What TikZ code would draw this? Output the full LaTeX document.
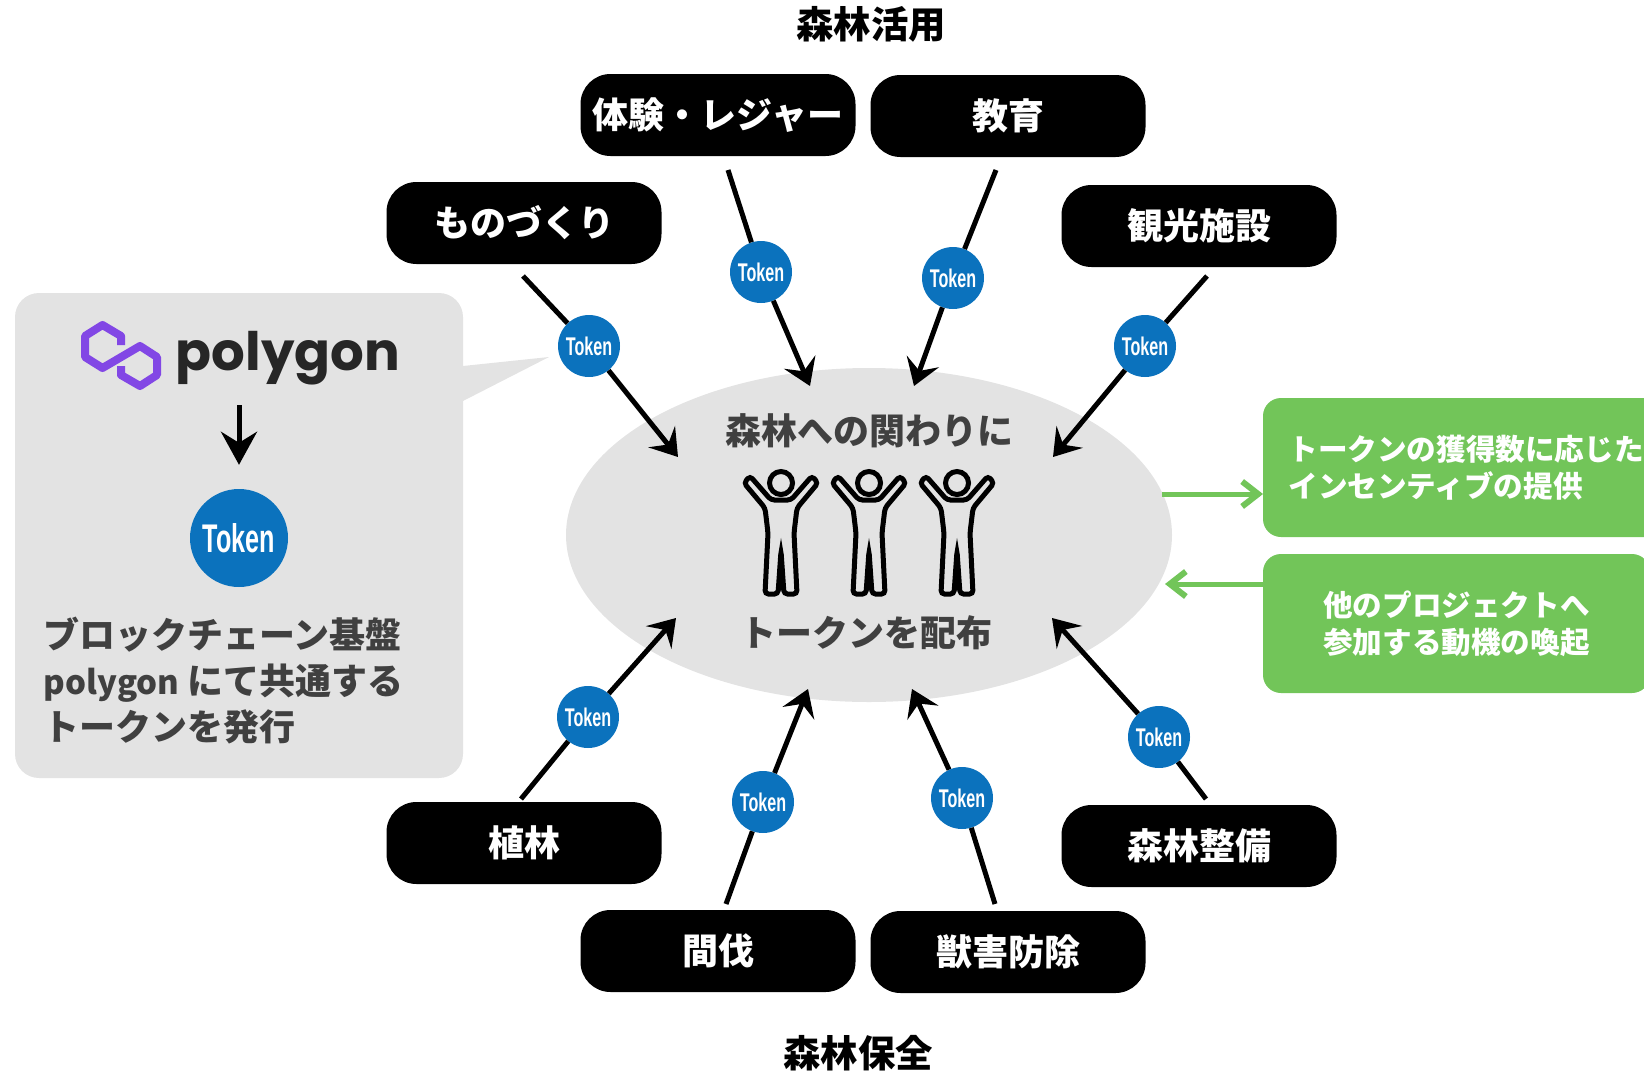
\documentclass[tikz,border=0pt]{standalone}
\usepackage{fontspec}
\usepackage{tikz}
\usetikzlibrary{arrows.meta,shapes.geometric}
\newfontfamily\jpfont{Noto Sans CJK JP}
\newfontfamily\logofont{Poppins}
\newfontfamily\tokenfont[FakeStretch=0.63]{Liberation Sans}
\definecolor{panelgray}{HTML}{E3E3E3}
\definecolor{textgray}{HTML}{404040}
\definecolor{tokenblue}{HTML}{0B72BD}
\definecolor{boxgreen}{HTML}{72C559}
\definecolor{logopurple}{HTML}{8247E5}
\tikzset{
	pill/.style={fill=black, text=white, rounded corners=30pt, minimum width=275pt, minimum height=82pt, inner sep=0pt, font=\jpfont\bfseries\fontsize{36}{42}\selectfont},
	token/.style={circle, fill=tokenblue, text=white, minimum size=62pt, inner sep=0pt, font=\tokenfont\bfseries\fontsize{25.6}{30}\selectfont},
	heading/.style={font=\jpfont\bfseries\fontsize{37.4}{44}\selectfont},
	grayline/.style={text=textgray, font=\jpfont\bfseries\fontsize{36}{46}\selectfont},
	greenbox/.style={fill=boxgreen, text=white, rounded corners=18pt, minimum height=139pt, inner sep=0pt, align=left, font=\jpfont\bfseries\fontsize{29.6}{37}\selectfont},
	arrowline/.style={line width=5pt},
	tokenarrow/.style={line width=5pt, -{Stealth[length=26pt,width=34pt,inset=10pt]}},
	greenarrow/.style={draw=boxgreen, line width=5pt, -{Straight Barb[length=16pt,width=25pt,line width=6pt]}},
	person/.pic={
		\draw[line width=5pt, fill=none] (0,0) circle (11.5pt);
		\draw[line width=5pt, rounded corners=3.5pt] (-10,17) -- (-31,-7) -- (-37,0) -- (-16,25) -- (-13,50) -- (-16,111) -- (-3,111) -- (0,68) -- (3,111) -- (16,111) -- (13,50) -- (16,25) -- (37,0) -- (31,-7) -- (10,17) -- cycle;
	}
}

\begin{document}
\begin{tikzpicture}[x=1pt, y=-1pt]
	\useasboundingbox (0,0) rectangle (1644,1071);
	\clip (0,0) rectangle (1644,1071);
	% Specify the positions of the activities:
	\coordinate (P0) at (718,115);
	\coordinate (P1) at (1008,116);
	\coordinate (P2) at (524,223);
	\coordinate (P3) at (1199,226);
	\coordinate (P4) at (524,843);
	\coordinate (P5) at (718,951);
	\coordinate (P6) at (1008,952);
	\coordinate (P7) at (1199,846);
	% Specify the positions of the tokens:
	\coordinate (T0) at (761,272);
	\coordinate (T1) at (953,278);
	\coordinate (T2) at (589,346);
	\coordinate (T3) at (1145,346);
	\coordinate (T4) at (588,717);
	\coordinate (T5) at (763,802);
	\coordinate (T6) at (962,798);
	\coordinate (T7) at (1159,737);
	% Specify the free ends of the arrows:
	\coordinate (S0) at (728,170);
	\coordinate (E0) at (810,386);
	\coordinate (S1) at (996,170);
	\coordinate (E1) at (914,386);
	\coordinate (S2) at (523,276);
	\coordinate (E2) at (678,457);
	\coordinate (S3) at (1207,276);
	\coordinate (E3) at (1053,457);
	\coordinate (S4) at (521,799);
	\coordinate (E4) at (676,618);
	\coordinate (S5) at (726,904);
	\coordinate (E5) at (808,689);
	\coordinate (S6) at (995,904);
	\coordinate (E6) at (912,689);
	\coordinate (S7) at (1206,799);
	\coordinate (E7) at (1052,618);
	% Draw the two headings:
	\node[heading] (useTitle) at (871,24) {森林活用};
	\node[heading] (careTitle) at (858,1053) {森林保全};
	% Draw the centre:
	\node[ellipse, fill=panelgray, minimum width=606pt, minimum height=334pt, inner sep=0pt] (centre) at (869,535) {};
	\node[grayline] (centreTop) at (869,431) {森林への関わりに};
	\node[grayline] (centreBottom) at (866,633) {トークンを配布};
	\pic at (781,483) {person};
	\pic at (869,483) {person};
	\pic at (957,483) {person};
	% Draw the activities:
	\node[pill] (experience) at (P0) {体験・レジャー};
	\node[pill] (education) at (P1) {教育};
	\node[pill] (crafts) at (P2) {ものづくり};
	\node[pill] (tourism) at (P3) {観光施設};
	\node[pill] (planting) at (P4) {植林};
	\node[pill] (thinning) at (P5) {間伐};
	\node[pill] (pests) at (P6) {獣害防除};
	\node[pill] (forestry) at (P7) {森林整備};
	% Draw the tokens:
	\node[token] (token0) at (T0) {Token};
	\node[token] (token1) at (T1) {Token};
	\node[token] (token2) at (T2) {Token};
	\node[token] (token3) at (T3) {Token};
	\node[token] (token4) at (T4) {Token};
	\node[token] (token5) at (T5) {Token};
	\node[token] (token6) at (T6) {Token};
	\node[token] (token7) at (T7) {Token};
	% Draw the arrows through the tokens:
	\draw[arrowline] (S0) -- (token0);
	\draw[tokenarrow] (token0) -- (E0);
	\draw[arrowline] (S1) -- (token1);
	\draw[tokenarrow] (token1) -- (E1);
	\draw[arrowline] (S2) -- (token2);
	\draw[tokenarrow] (token2) -- (E2);
	\draw[arrowline] (S3) -- (token3);
	\draw[tokenarrow] (token3) -- (E3);
	\draw[arrowline] (S4) -- (token4);
	\draw[tokenarrow] (token4) -- (E4);
	\draw[arrowline] (S5) -- (token5);
	\draw[tokenarrow] (token5) -- (E5);
	\draw[arrowline] (S6) -- (token6);
	\draw[tokenarrow] (token6) -- (E6);
	\draw[arrowline] (S7) -- (token7);
	\draw[tokenarrow] (token7) -- (E7);
	% Draw the left panel:
	\node[fill=panelgray, rounded corners=24pt, minimum width=448pt, minimum height=485pt, inner sep=0pt] (panel) at (239,535.5) {};
	\coordinate (tailTop) at (463,366);
	\coordinate (tailTip) at (549,357);
	\coordinate (tailBottom) at (463,401);
	\fill[panelgray] (tailTop) -- (tailTip) -- (tailBottom) -- cycle;
	\draw[logopurple, line width=8pt, line join=round] (121,345) -- (121,336) -- (102.5,325) -- (85,336) -- (85,357) -- (102.5,368) -- (140,346) -- (157,357) -- (157,375) -- (140,386) -- (121,375) -- (121,366);
	\node[anchor=base, text=black!85, font=\logofont\bfseries\fontsize{53}{60}\selectfont] (logo) at (288,370) {polygon};
	\coordinate (logoArrow) at (239,405);
	\node[token, minimum size=98pt, font=\tokenfont\bfseries\fontsize{40}{46}\selectfont] (bigToken) at (239,538) {Token};
	\draw[line width=5pt, shorten >=24pt, -{Stealth[length=33pt,width=36pt,inset=11pt]}] (logoArrow) -- (bigToken);
	\node[grayline, anchor=west, align=left] (panelText) at (40,681) {ブロックチェーン基盤\\{\fontsize{33}{46}\selectfont polygon} にて共通する\\トークンを発行};
	% Draw the green boxes:
	\node[greenbox, minimum width=406pt] (incentive) at (1466,467.5) {トークンの獲得数に応じた\\インセンティブの提供};
	\node[greenbox, minimum width=387pt, align=center] (motive) at (1456.5,623.5) {他のプロジェクトへ\\参加する動機の喚起};
	\coordinate (outStart) at (1162,494);
	\coordinate (outEnd) at (1263,494);
	\coordinate (inStart) at (1263,584);
	\coordinate (inEnd) at (1165,584);
	\draw[greenarrow] (outStart) -- (outEnd);
	\draw[greenarrow] (inStart) -- (inEnd);
\end{tikzpicture}
\end{document}
